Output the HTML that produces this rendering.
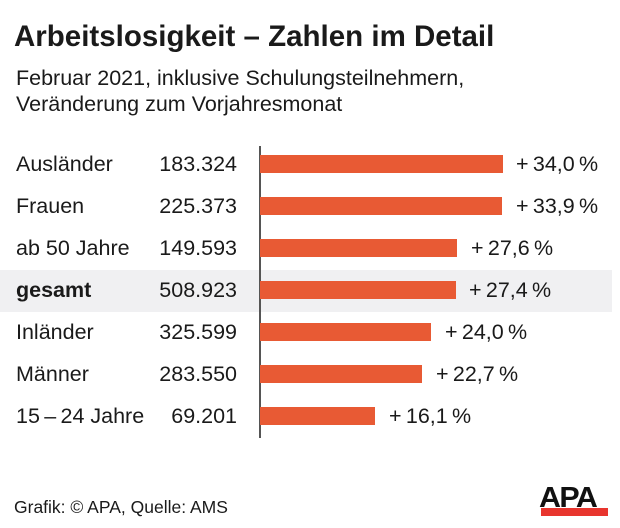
<!DOCTYPE html><html><head><style>
body{margin:0;width:620px;height:528px;background:#fff;font-family:"Liberation Sans",sans-serif;color:#1a1a1a;position:relative;overflow:hidden}
.a{position:absolute;white-space:nowrap}
.t{left:14px;top:20px;font-size:29.5px;line-height:34px;font-weight:bold}
.s{left:16px;font-size:21.5px;line-height:24px}
.lab,.num,.pct{font-size:21.5px;line-height:22px}
.num{right:383px;text-align:right}
.bar{position:absolute;left:260px;height:18px;background:#e85a34}
</style></head><body>
<div class="a t">Arbeitslosigkeit – Zahlen im Detail</div>
<div class="a s" style="top:66px">Februar 2021, inklusive Schulungsteilnehmern,</div>
<div class="a s" style="top:92px">Veränderung zum Vorjahresmonat</div>
<div class="a" style="left:0;top:270px;width:612px;height:42px;background:#f0f0f2"></div>
<div class="a" style="left:259px;top:146px;width:2px;height:292px;background:#555"></div>
<div class="a lab" style="left:16px;top:153px">Ausländer</div><div class="a num" style="top:153px">183.324</div><div class="bar" style="top:155px;width:243px"></div><div class="a pct" style="left:516px;top:153px">+&#8201;34,0&#8201;%</div>
<div class="a lab" style="left:16px;top:195px">Frauen</div><div class="a num" style="top:195px">225.373</div><div class="bar" style="top:197px;width:242px"></div><div class="a pct" style="left:516px;top:195px">+&#8201;33,9&#8201;%</div>
<div class="a lab" style="left:16px;top:237px">ab 50 Jahre</div><div class="a num" style="top:237px">149.593</div><div class="bar" style="top:239px;width:197px"></div><div class="a pct" style="left:471px;top:237px">+&#8201;27,6&#8201;%</div>
<div class="a lab" style="left:16px;top:279px;font-weight:bold">gesamt</div><div class="a num" style="top:279px">508.923</div><div class="bar" style="top:281px;width:196px"></div><div class="a pct" style="left:469px;top:279px">+&#8201;27,4&#8201;%</div>
<div class="a lab" style="left:16px;top:321px">Inländer</div><div class="a num" style="top:321px">325.599</div><div class="bar" style="top:323px;width:171px"></div><div class="a pct" style="left:445px;top:321px">+&#8201;24,0&#8201;%</div>
<div class="a lab" style="left:16px;top:363px">Männer</div><div class="a num" style="top:363px">283.550</div><div class="bar" style="top:365px;width:162px"></div><div class="a pct" style="left:436px;top:363px">+&#8201;22,7&#8201;%</div>
<div class="a lab" style="left:16px;top:405px">15&#8201;–&#8201;24 Jahre</div><div class="a num" style="top:405px">69.201</div><div class="bar" style="top:407px;width:115px"></div><div class="a pct" style="left:389px;top:405px">+&#8201;16,1&#8201;%</div>
<div class="a" style="left:14px;top:497px;font-size:17.5px;line-height:20px">Grafik: © APA, Quelle: AMS</div>
<div class="a" style="left:539px;top:486px;font-size:29px;font-weight:900;letter-spacing:-1.5px;line-height:24px;color:#111;transform:scaleX(1.05);transform-origin:left">APA</div>
<div class="a" style="left:541px;top:508px;width:67px;height:8px;background:#e8352e"></div>
</body></html>
